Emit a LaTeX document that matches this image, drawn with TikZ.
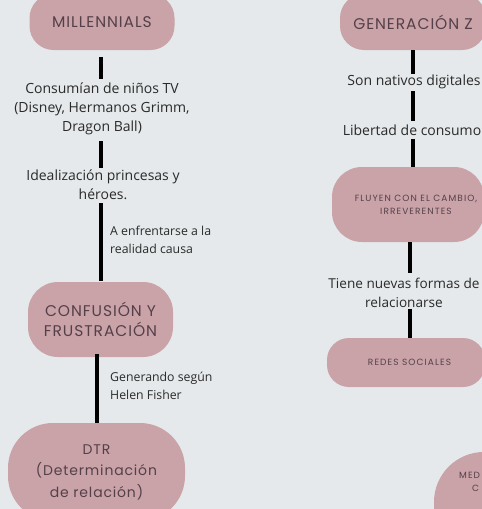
\documentclass[tikz,border=0pt]{standalone}
\usepackage{fontspec}
\setmainfont{Open Sans}
\newfontfamily\boxfont{Poppins}[LetterSpace=6]
\newfontfamily\smallboxfont{Poppins}[LetterSpace=12]
\definecolor{bg}{HTML}{E5E9EB}
\definecolor{pinkbox}{HTML}{C9A3A7}
\definecolor{boxtxt}{HTML}{55404A}
\definecolor{bodytxt}{HTML}{2A2A2A}
\begin{document}
\begin{tikzpicture}[x=1pt,y=-1pt,
  pill/.style={fill=pinkbox, text=boxtxt, align=center, inner sep=0pt, font=\boxfont\fontsize{15.5}{20}\selectfont},
  smallpill/.style={pill, font=\smallboxfont\fontsize{9}{13}\selectfont},
  body/.style={text=bodytxt, align=center, inner sep=0pt, font=\fontsize{14}{19}\selectfont},
  note/.style={text=bodytxt, align=left, inner sep=0pt, anchor=west, font=\fontsize{12.3}{18}\selectfont},
  conn/.style={line width=4pt, black}]
\useasboundingbox (0,0) rectangle (482,509);
\fill[bg] (0,0) rectangle (482,509);
\clip (0,0) rectangle (482,509);

% left column
\node[pill, rounded corners=24pt, minimum width=145pt, minimum height=56pt] (mil) at (102,22) {MILLENNIALS};
\node[body] (t1) at (102,109) {Consumían de niños TV\\(Disney, Hermanos Grimm,\\Dragon Ball)};
\node[body] (t2) at (103,185) {Idealización princesas y\\héroes.};
\node[pill, rounded corners=30pt, minimum width=145pt, minimum height=75pt] (conf) at (100.5,319.5) {CONFUSIÓN Y\\FRUSTRACIÓN};
\node[pill, rounded corners=45pt, minimum width=177pt, minimum height=98pt, font=\boxfont\fontsize{14}{21.5}\selectfont] (dtr) at (96.5,472) {DTR\\(Determinación\\de relación)};
\node[note] (n1) at (110,240) {A enfrentarse a la\\realidad causa};
\node[note] (n2) at (110,386) {Generando según\\Helen Fisher};

\draw[conn, shorten <=7pt, shorten >=4pt] (mil.south -| 101,0) -- (t1.north -| 101,0);
\draw[conn, shorten <=6pt, shorten >=2pt] (t1.south -| 101,0) -- (t2.north -| 101,0);
\draw[conn, shorten <=3pt, shorten >=1pt] (t2.south -| 101,0) -- (conf.north -| 101,0);
\draw[conn, shorten <=-3pt] (conf.south -| dtr.north) -- (dtr.north);

% right column
\node[pill, rounded corners=24pt, minimum width=146pt, minimum height=56pt] (genz) at (413,22) {GENERACIÓN Z};
\node[body] (s1) at (414,82) {Son nativos digitales};
\node[body] (s2) at (412,130) {Libertad de consumo};
\node[smallpill, rounded corners=30pt, minimum width=152pt, minimum height=75pt] (flu) at (408,204.5) {\hspace*{16pt}FLUYEN CON EL CAMBIO,\\\hspace*{16pt}IRREVERENTES};
\node[body, font=\fontsize{13.6}{19}\selectfont] (s3) at (404,292.5) {Tiene nuevas formas de\\relacionarse};
\node[smallpill, rounded corners=22pt, minimum width=158pt, minimum height=49pt] (red) at (406,362.5) {\hspace*{7pt}REDES SOCIALES};
\node[pill, rounded corners=50pt, minimum width=120pt, minimum height=110pt] (medi) at (494,507) {};
\node[smallpill, fill=none, anchor=west, align=left] (meditxt) at (459,481.5) {MED\\\hspace*{13pt}C};

\draw[conn, shorten >=1pt] (genz.south -| 413,0) -- (s1.north -| 413,0);
\draw[conn, shorten <=2pt, shorten >=3pt] (s1.south -| 413,0) -- (s2.north -| 413,0);
\draw[conn, shorten <=3pt] (s2.south -| 413,0) -- (flu.north -| 413,0);
\draw[conn, shorten >=5pt] (flu.south -| 410,0) -- (s3.north -| 410,0);
\draw[conn, shorten <=2pt] (s3.south -| 410,0) -- (red.north -| 410,0);
\end{tikzpicture}
\end{document}
